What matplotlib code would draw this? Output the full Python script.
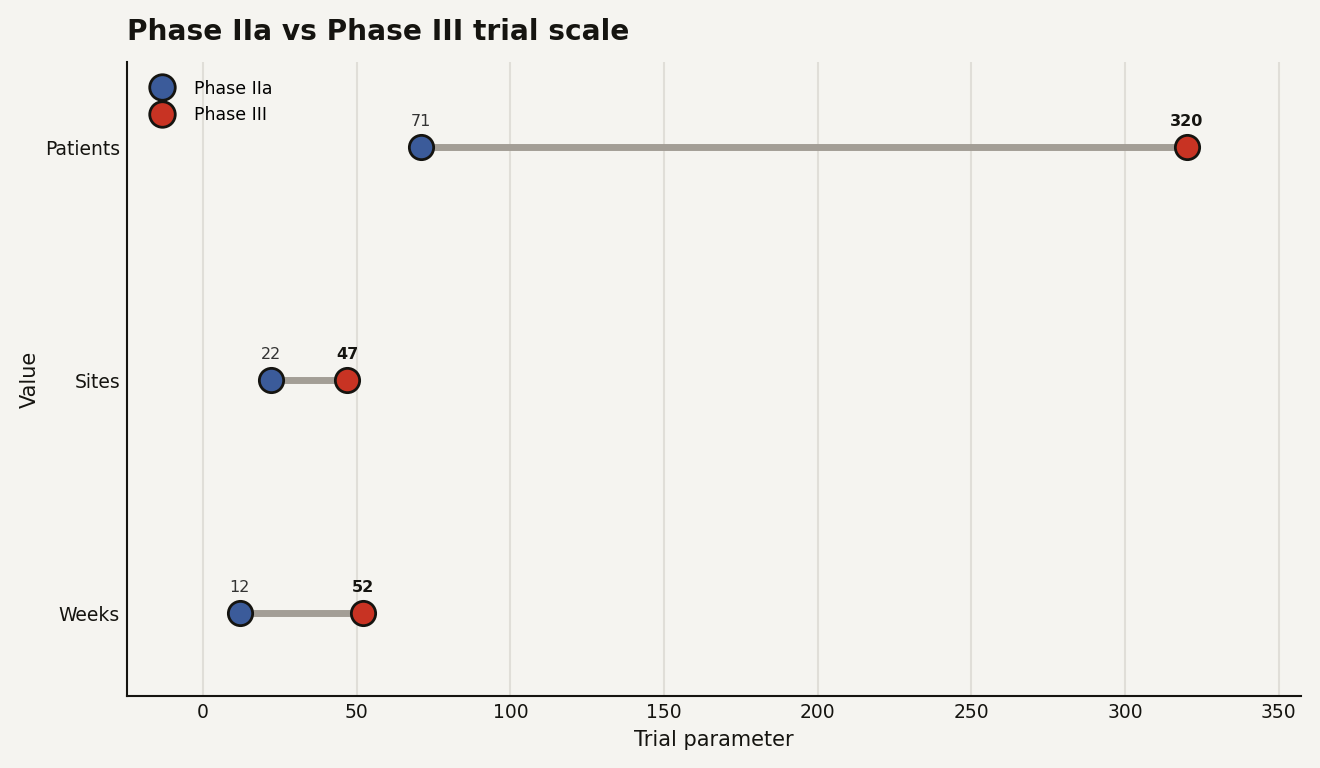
import matplotlib
matplotlib.use("Agg")
import matplotlib.pyplot as plt

# data
categories = ["Patients", "Sites", "Weeks"]
phase2a = [71, 22, 12]
phase3 = [320, 47, 52]

BG = "#F5F4F0"
BLUE = "#3B5B9A"
RED = "#C83323"
LINE = "#A39E96"
INK = "#151410"

fig = plt.figure(figsize=(13.2, 7.68), dpi=100, facecolor=BG)
ax = fig.add_axes([0.0962, 0.0937, 0.8894, 0.8253], facecolor=BG)

ypos = [2, 1, 0]
for y, a, b in zip(ypos, phase2a, phase3):
    ax.plot([a, b], [y, y], color=LINE, lw=5, zorder=2, solid_capstyle="butt")
    ax.annotate(str(a), (a, y), xytext=(0, 13), textcoords="offset points",
                ha="center", va="bottom", fontsize=11.5, color="#333")
    ax.annotate(str(b), (b, y), xytext=(0, 13), textcoords="offset points",
                ha="center", va="bottom", fontsize=11.5, color=INK, fontweight="bold")

ax.plot(phase2a, ypos, "o", ms=17.5, color=BLUE, mec=INK, mew=2, ls="none",
        zorder=3, label="Phase IIa")
ax.plot(phase3, ypos, "o", ms=17.5, color=RED, mec=INK, mew=2, ls="none",
        zorder=3, label="Phase III")

ax.set_yticks(ypos)
ax.set_yticklabels(categories)
ax.set_ylim(-0.356, 2.365)
ax.set_xlim(-24.7, 357.2)
ax.set_xticks(range(0, 351, 50))

ax.grid(axis="x", color="#E0DED8", lw=1.5)
ax.set_axisbelow(True)
for s in ["top", "right"]:
    ax.spines[s].set_visible(False)
for s in ["left", "bottom"]:
    ax.spines[s].set_color(INK)
    ax.spines[s].set_linewidth(1.5)
ax.tick_params(axis="both", labelsize=13.5, colors=INK, length=0, pad=5)

ax.set_xlabel("Trial parameter", fontsize=15, color=INK, labelpad=6)
ax.set_ylabel("Value", fontsize=15, color=INK, labelpad=4)
ax.set_title("Phase IIa vs Phase III trial scale", loc="left", fontsize=20.2,
             fontweight="bold", color=INK, pad=16)

ax.legend(loc="upper left", frameon=False, fontsize=12.5, labelspacing=0.5,
          handletextpad=0.85, borderaxespad=0.6, markerscale=1.05)

fig.savefig("out.png", dpi=100, facecolor=BG)
